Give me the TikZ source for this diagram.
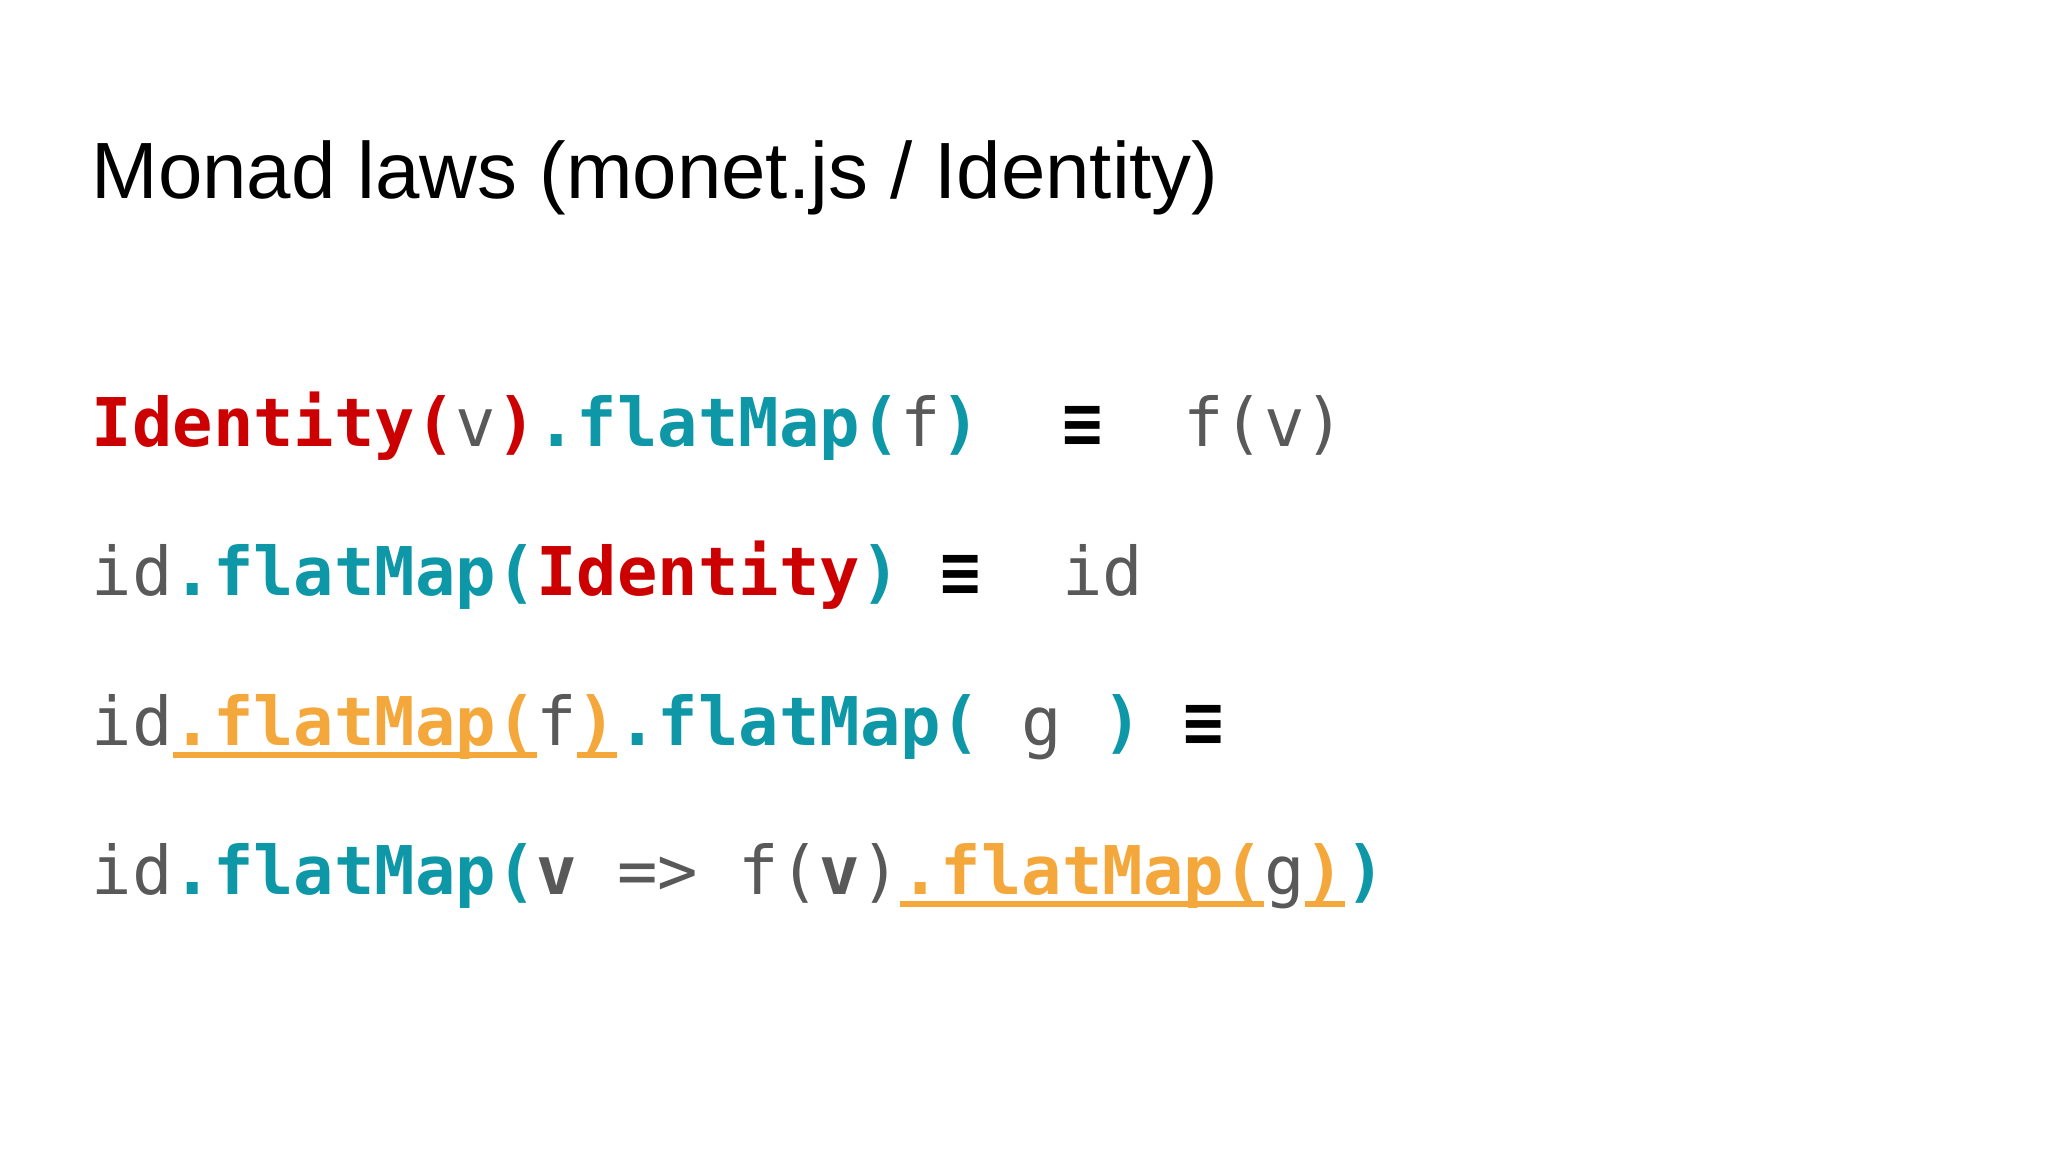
\documentclass[tikz,border=0pt]{standalone}
\usepackage{fontspec}
\setmainfont{Liberation Sans}
\newfontfamily\codefont{DejaVu Sans Mono}
\definecolor{idred}{HTML}{CC0000}
\definecolor{codeteal}{HTML}{0E97A6}
\definecolor{cgray}{HTML}{595959}
\definecolor{orng}{HTML}{F4A83C}
\newlength{\ulw}
\newcommand{\orul}[1]{\settowidth{\ulw}{#1}\rlap{\color{orng}\rule[-0.2em]{\ulw}{0.09em}}#1}
\newcommand{\cRed}[1]{\textcolor{idred}{\bfseries #1}}
\newcommand{\cTeal}[1]{\textcolor{codeteal}{\bfseries #1}}
\newcommand{\cGray}[1]{\textcolor{cgray}{#1}}
\newcommand{\cGrayB}[1]{\textcolor{cgray}{\bfseries #1}}
\newcommand{\cOrng}[1]{\textcolor{orng}{\bfseries\orul{#1}}}
\newcommand{\cEQ}{\textcolor{black}{\bfseries ≡}}
\begin{document}
\begin{tikzpicture}[x=0.01cm,y=-0.01cm,
  code/.style={anchor=base west,inner sep=0pt,font=\codefont\fontsize{19.1pt}{22pt}\selectfont}]
\fill[white] (0,0) rectangle (2048,1152);
\node[anchor=base west,inner sep=0pt,font=\fontsize{22.7pt}{27pt}\selectfont] (title) at (91,199) {Monad laws (monet.js / Identity)};
\node[code] (l1) at (91,447) {\cRed{Identity(}\cGray{v}\cRed{)}\cTeal{.flatMap(}\cGray{f}\cTeal{)}\ \ \cEQ\ \ \cGray{f(v)}};
\node[code] (l2) at (91,596) {\cGray{id}\cTeal{.flatMap(}\cRed{Identity}\cTeal{)}\ \cEQ\ \ \cGray{id}};
\node[code] (l3) at (91,745) {\cGray{id}\cOrng{.flatMap(}\cGray{f}\cOrng{)}\cTeal{.flatMap(}\ \cGray{g}\ \cTeal{)}\ \cEQ};
\node[code] (l4) at (91,894) {\cGray{id}\cTeal{.flatMap(}\cGrayB{v}\ \cGray{=>}\ \cGray{f(}\cGrayB{v}\cGray{)}\cOrng{.flatMap(}\cGray{g}\cOrng{)}\cTeal{)}};
\end{tikzpicture}
\end{document}
